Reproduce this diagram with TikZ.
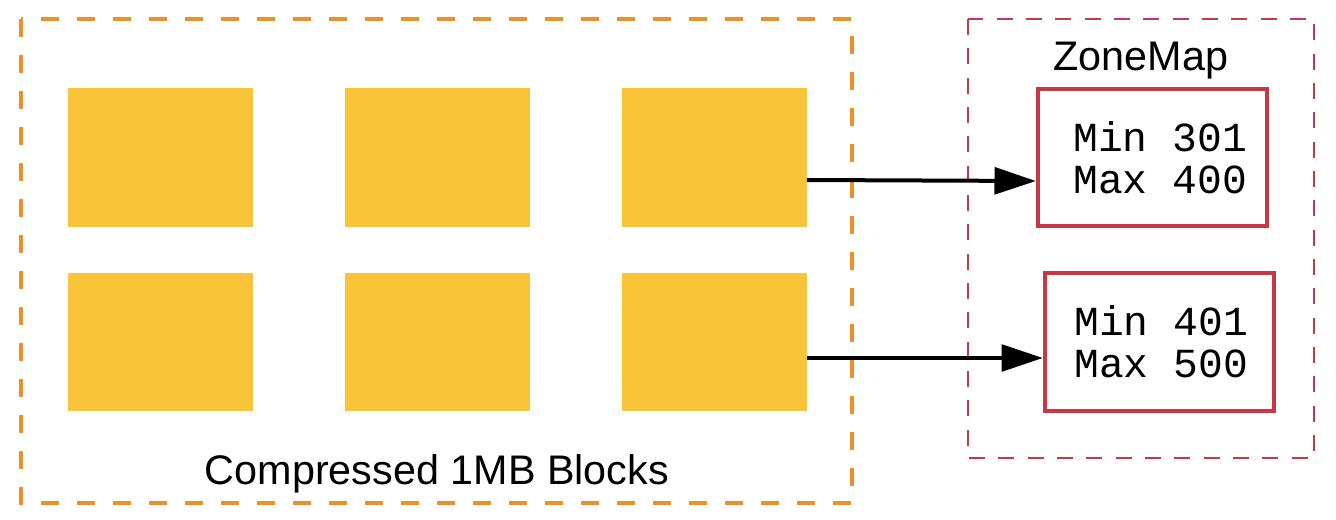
\documentclass[tikz,border=0pt]{standalone}
\usepackage{fontspec}
\setmainfont{Liberation Sans}
\newfontfamily\monof{Liberation Mono}
\usetikzlibrary{arrows.meta}
\definecolor{orng}{HTML}{EE8F2B}
\definecolor{yel}{HTML}{F9C33A}
\definecolor{rd}{HTML}{C73744}
\begin{document}
\begin{tikzpicture}[x=0.75pt,y=-0.75pt,
  block/.style={fill=yel, draw=none, minimum width=138.75pt, minimum height=104pt, inner sep=0pt},
  zbox/.style={draw=rd, line width=3pt, fill=white, minimum width=172pt, minimum height=103pt, inner sep=0pt},
  ztext/.style={font=\monof\fontsize{31}{31.5}\selectfont, align=left, inner sep=0pt},
  lbl/.style={font=\fontsize{31}{34}\selectfont, inner sep=0pt},
  conn/.style={line width=3pt, -{Triangle[length=31pt,width=20pt]}}]
\useasboundingbox (0,0) rectangle (1336,520);
% outer dashed containers
\draw[orng, line width=3pt, dash pattern=on 13.5pt off 13.5pt] (21,19) rectangle (852,503);
\draw[rd, line width=1.5pt, dash pattern=on 12pt off 10pt] (968,19) rectangle (1314,458);
% blocks
\node[block] (b11) at (160,157.5) {};
\node[block] (b12) at (437,157.5) {};
\node[block] (b13) at (714,157.5) {};
\node[block] (b21) at (160,342) {};
\node[block] (b22) at (437,342) {};
\node[block] (b23) at (714,342) {};
% labels
\node[lbl] (lc) at (437,474) {Compressed 1MB Blocks};
\node[lbl] (lz) at (1141,61) {ZoneMap};
% zonemap boxes
\node[zbox] (z1) at (1152.5,157.5) {};
\node[zbox] (z2) at (1159.5,342) {};
\node[ztext, anchor=west] (t1) at (1073,158) {Min 301\\Max 400};
\node[ztext, anchor=west] (t2) at (1074,342) {Min 401\\Max 500};
% connectors
\draw[conn] (b13.east |- 0,180) -- (z1.west |- 0,181);
\draw[conn] (b23.east |- 0,358) -- (z2.west |- 0,358);
\end{tikzpicture}
\end{document}
